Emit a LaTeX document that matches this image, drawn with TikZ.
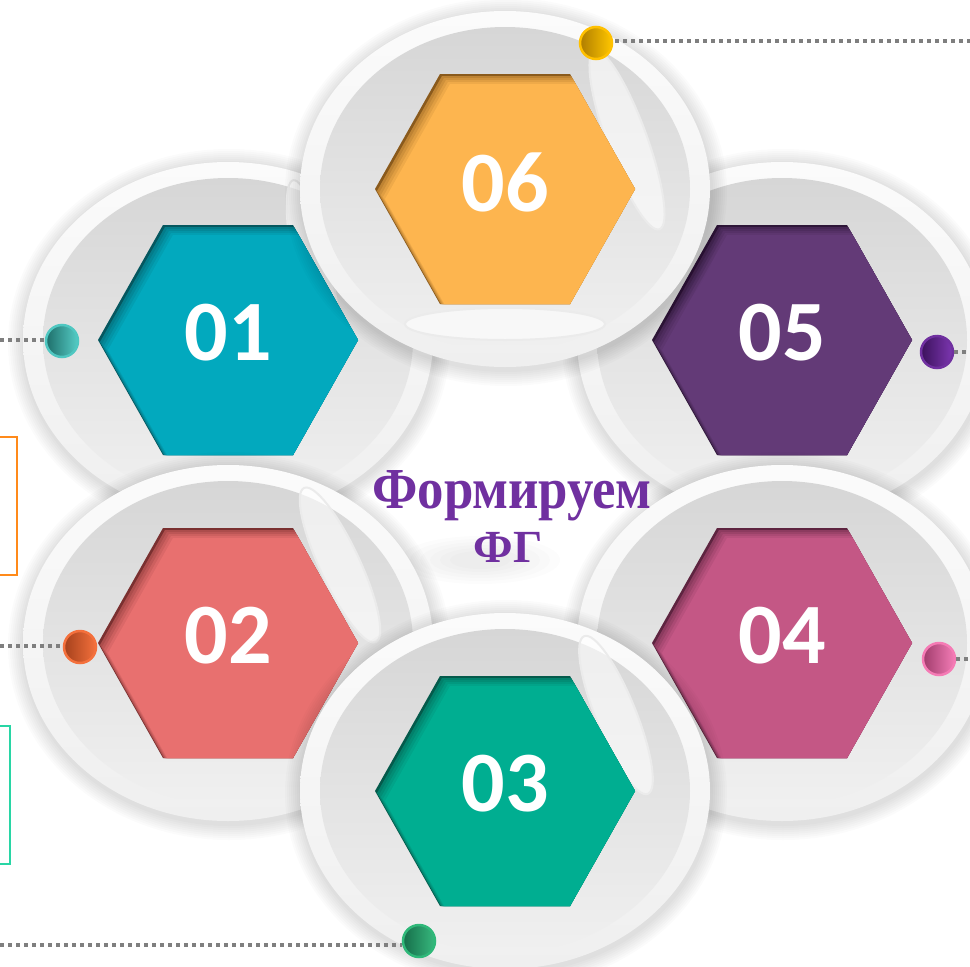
\documentclass[tikz,border=0pt]{standalone}
\usepackage{fontspec}
\newfontfamily\numfont{Carlito}
\newfontfamily\titlefont{Liberation Serif}
\definecolor{platetop}{HTML}{FBFBFB}
\definecolor{platebot}{HTML}{EFEFEF}
\definecolor{innertop}{HTML}{D6D6D6}
\definecolor{innerbot}{HTML}{F0F0F0}
\definecolor{c06}{HTML}{FDB54F}\definecolor{c06d}{HTML}{8A5A1C}
\definecolor{c01}{HTML}{02A9BE}\definecolor{c01d}{HTML}{05575F}
\definecolor{c05}{HTML}{633A77}\definecolor{c05d}{HTML}{2E1638}
\definecolor{c02}{HTML}{E8706F}\definecolor{c02d}{HTML}{7A3030}
\definecolor{c04}{HTML}{C45785}\definecolor{c04d}{HTML}{5E2440}
\definecolor{c03}{HTML}{00AE91}\definecolor{c03d}{HTML}{045A4B}
\definecolor{titlepurple}{HTML}{7030A0}
\definecolor{dotgrey}{HTML}{7F7F7F}
\tikzset{
  numstyle/.style={text=white,font=\numfont\bfseries\fontsize{86}{86}\selectfont,inner sep=0pt},
  lens/.style={draw=black!8,line width=2pt,fill=white,fill opacity=0.6},
  dotline/.style={draw=dotgrey,line width=4pt,dash pattern=on 4pt off 4pt},
  ball/.style={circle,minimum size=32pt,inner sep=0pt,line width=2.5pt,shading angle=45},
  titlestyle/.style={anchor=base,text=titlepurple,inner sep=0pt},
}
\newcommand\hexpath{(-130,0) -- (-65,-115) -- (65,-115) -- (130,0) -- (65,115) -- (-65,115) -- cycle}
% #1 cx #2 cy #3 colour #4 dark colour #5 number #6 lens code
\newcommand\myplate[6]{%
  \begin{scope}[shift={(#1,#2)}]
    \foreach \i in {1,...,8} \fill[black,opacity=0.016] (1,3) ellipse ({205pt+2pt*\i} and {178pt+2pt*\i});
    \shade[top color=platetop,bottom color=platebot] (0,0) ellipse (205pt and 178pt);
    \shade[top color=innertop,bottom color=innerbot] (0,0) ellipse (185pt and 162pt);
    #6
    \fill[#4] \hexpath;
    \begin{scope}
      \clip \hexpath;
      \fill[#3!45!#4,shift={(2,2)}] \hexpath;
      \fill[#3!60!#4,shift={(4,4)}] \hexpath;
      \fill[#3!75!#4,shift={(6,6)}] \hexpath;
      \fill[#3!88!#4,shift={(8,8)}] \hexpath;
      \fill[#3,shift={(10,10)}] \hexpath;
    \end{scope}
    \node[numstyle] (n#5) at (0,-7) {#5};
  \end{scope}}
\begin{document}
\begin{tikzpicture}[x=1pt,y=-1pt]
\useasboundingbox (0,0) rectangle (970,967);
\fill[white] (0,0) rectangle (970,967);
% soft shadow behind the title
\foreach \i in {1,...,6} \fill[black,opacity=0.012] (480,560) ellipse ({20pt+10pt*\i} and {6pt+3pt*\i});
% left boxes
\node[draw={rgb,255:red,255;green,138;blue,26},line width=2.5pt,minimum width=40pt,minimum height=138pt,inner sep=0pt] (boxa) at (-3,506) {};
\node[draw={rgb,255:red,40;green,214;blue,165},line width=2.5pt,minimum width=40pt,minimum height=138pt,inner sep=0pt] (boxb) at (-10,795) {};
% plate 01
\myplate{228}{340}{c01}{c01d}{01}{\draw[lens,rotate around={12:(86,-62)}] (86,-62) ellipse (18pt and 100pt);}
\coordinate (e01) at (0,340);
\draw[dotline] (e01) -- (45,340);
\node[ball,draw={rgb,255:red,79;green,199;blue,193},left color={rgb,255:red,30;green,110;blue,106},right color={rgb,255:red,85;green,205;blue,198}] (d01) at (62,341) {};
% plate 05
\myplate{782}{340}{c05}{c05d}{05}{}
\coordinate (e05) at (970,352);
\node[ball,draw={rgb,255:red,112;green,48;blue,160},left color={rgb,255:red,60;green,18;blue,92},right color={rgb,255:red,125;green,55;blue,178}] (d05) at (937,352) {};
\draw[dotline] (d05.east) -- (e05);
% plate 06
\myplate{505}{189}{c06}{c06d}{06}{\draw[lens,rotate around={20:(122,-49)}] (122,-49) ellipse (20pt and 95pt); \draw[lens] (0,135) ellipse (100pt and 16pt);}
\coordinate (e06) at (970,41);
\node[ball,draw={rgb,255:red,255;green,192;blue,0},left color={rgb,255:red,175;green,125;blue,0},right color={rgb,255:red,255;green,198;blue,0}] (d06) at (596,43) {};
\draw[dotline] (d06.east) ++(2,-2) -- (e06);
% plate 02
\myplate{228}{643}{c02}{c02d}{02}{\draw[lens,rotate around={25:(112,-78)}] (112,-78) ellipse (20pt and 85pt);}
\coordinate (e02) at (0,646);
\draw[dotline] (e02) -- (64,646);
\node[ball,draw={rgb,255:red,244;green,112;blue,60},left color={rgb,255:red,165;green,65;blue,28},right color={rgb,255:red,244;green,112;blue,60}] (d02) at (80,647) {};
% plate 04
\myplate{782}{643}{c04}{c04d}{04}{}
\coordinate (e04) at (970,659);
\node[ball,draw={rgb,255:red,245;green,123;blue,181},left color={rgb,255:red,160;green,60;blue,108},right color={rgb,255:red,245;green,125;blue,183}] (d04) at (939,659) {};
\draw[dotline] (d04.east) -- (e04);
% plate 03
\myplate{505}{791}{c03}{c03d}{03}{\draw[lens,rotate around={22:(111,-76)}] (111,-76) ellipse (20pt and 85pt);}
\coordinate (e03) at (0,945);
\draw[dotline] (e03) -- (402,945);
\node[ball,draw={rgb,255:red,47;green,184;blue,121},left color={rgb,255:red,22;green,110;blue,74},right color={rgb,255:red,55;green,185;blue,126}] (d03) at (419,941) {};
% title
\node[titlestyle,font=\titlefont\bfseries\fontsize{58}{58}\selectfont] (t1) at (512,508) {\scalebox{0.91}[1]{Формируем}};
\node[titlestyle,font=\titlefont\bfseries\fontsize{46}{46}\selectfont] (t2) at (508,562) {ФГ};
\end{tikzpicture}
\end{document}
